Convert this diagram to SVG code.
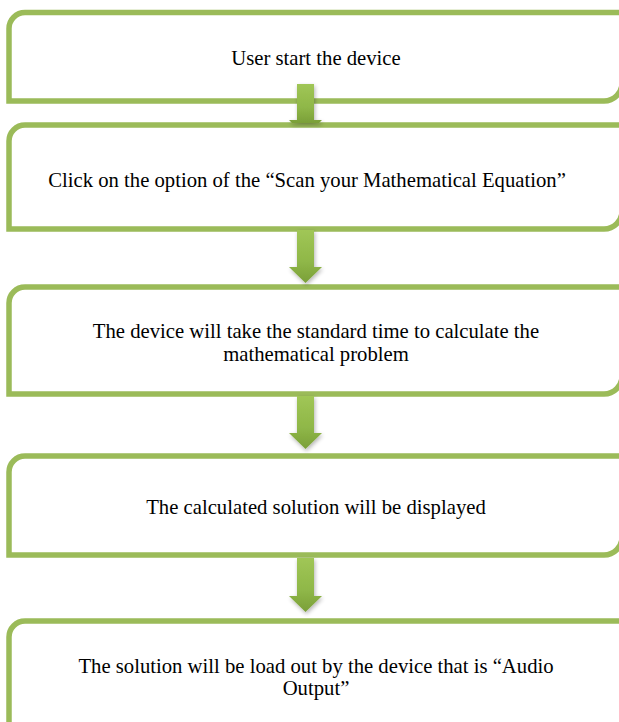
<svg xmlns="http://www.w3.org/2000/svg" width="619" height="722" viewBox="0 0 619 722">
  <style>
    .box { fill: #ffffff; stroke: #9bbb59; stroke-width: 5.5; }
    .label { font-family: "Liberation Serif", "Times New Roman", serif; font-size: 20.7px; fill: #000000; text-anchor: middle; }
    .arrow { fill: url(#arrowFill); filter: url(#arrowShadow); }
  </style>
  <defs>
    <linearGradient id="arrowFill" x1="0" y1="0" x2="0" y2="1">
      <stop offset="0" stop-color="#a0c656"/>
      <stop offset="0.6" stop-color="#8fb748"/>
      <stop offset="1" stop-color="#7a9f38"/>
    </linearGradient>
    <filter id="arrowShadow" x="-40%" y="-20%" width="180%" height="150%">
      <feGaussianBlur in="SourceAlpha" stdDeviation="2"/>
      <feOffset dx="1" dy="2" result="blur"/>
      <feComponentTransfer><feFuncA type="linear" slope="0.3"/></feComponentTransfer>
      <feMerge><feMergeNode/><feMergeNode in="SourceGraphic"/></feMerge>
    </filter>
  </defs>

  <g id="step1">
    <path class="box" d="M9,28.5 A16,16 0 0 1 25,12.5 H622 V83 A18,18 0 0 1 604,101 H9 Z"/>
    <text class="label" x="316" y="65">User start the device</text>
  </g>

  <g id="step2">
    <path class="box" d="M9,141 A16,16 0 0 1 25,125 H622 V211 A18,18 0 0 1 604,229 H9 Z"/>
    <text class="label" x="307" y="187">Click on the option of the “Scan your Mathematical Equation”</text>
  </g>

  <g id="step3">
    <path class="box" d="M9,303 A16,16 0 0 1 25,287 H622 V376 A18,18 0 0 1 604,394 H9 Z"/>
    <text class="label" x="316" y="338">The device will take the standard time to calculate the</text>
    <text class="label" x="316" y="361">mathematical problem</text>
  </g>

  <g id="step4">
    <path class="box" d="M9,472 A16,16 0 0 1 25,456 H622 V537 A18,18 0 0 1 604,555 H9 Z"/>
    <text class="label" x="316" y="514">The calculated solution will be displayed</text>
  </g>

  <g id="step5">
    <path class="box" d="M9,637 A16,16 0 0 1 25,621 H622 V730 H9 Z"/>
    <text class="label" x="316" y="673">The solution will be load out by the device that is “Audio</text>
    <text class="label" x="316" y="695">Output”</text>
  </g>

  <g id="connectors">
    <!-- step1 to step2: head tucked under the next box -->
    <polygon class="arrow" points="297,84 314,84 314,120 322,120 319,123 292,123 289,120 297,120"/>
    <!-- step2 to step3 -->
    <polygon class="arrow" points="297,230 314,230 314,267 322,267 305.5,283 289,267 297,267"/>
    <!-- step3 to step4 -->
    <polygon class="arrow" points="297,396 314,396 314,433 322,433 305.5,449 289,433 297,433"/>
    <!-- step4 to step5 -->
    <polygon class="arrow" points="297,558 314,558 314,596 322,596 305.5,612 289,596 297,596"/>
  </g>
</svg>
